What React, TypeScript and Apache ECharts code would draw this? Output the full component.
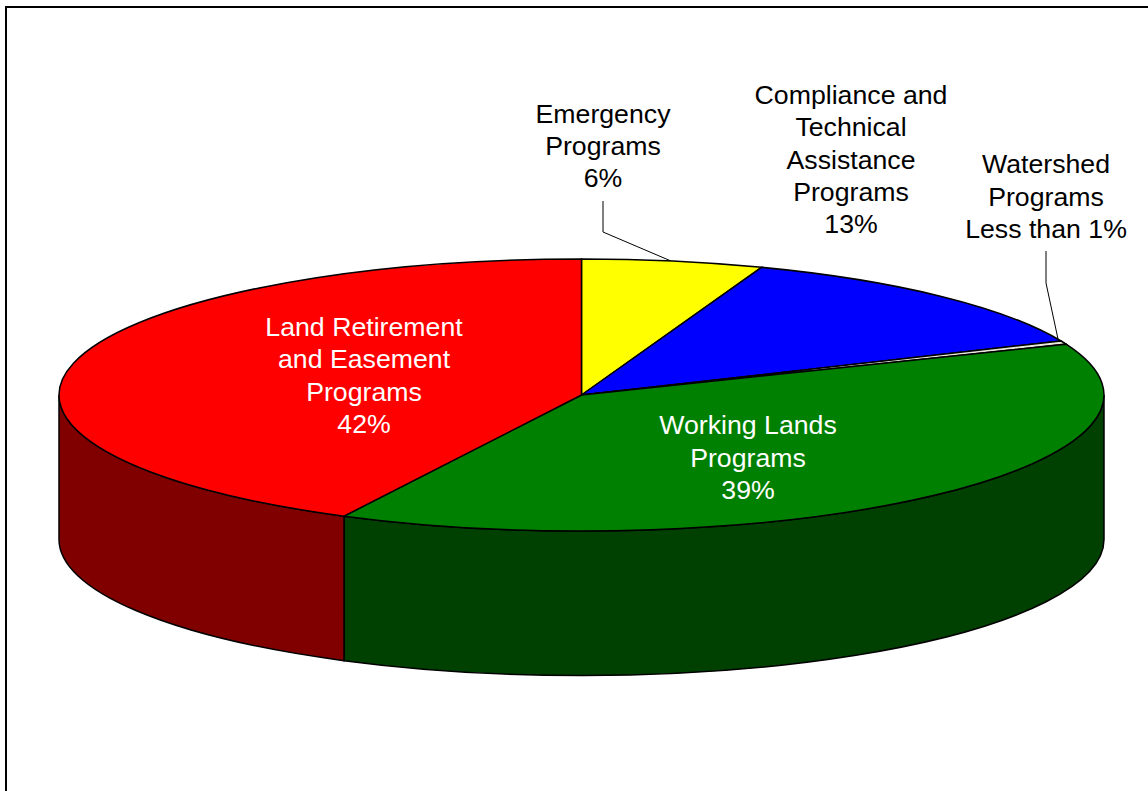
import React, { useEffect, useRef } from "react";
import * as echarts from "echarts";

// Farm conservation program shares, clockwise from the top of the pie.
const programNames = [
  "Emergency Programs",
  "Compliance and Technical Assistance Programs",
  "Watershed Programs",
  "Working Lands Programs",
  "Land Retirement and Easement Programs",
];
const shareValues = [5.6, 12.9, 0.4, 38.61, 42.49];
const topColors = ["#ffff00", "#0000ff", "#e8e8dc", "#008000", "#ff0000"];
const wallColors = ["#808000", "#000080", "#6c6c64", "#004000", "#800000"];

const labelLines = [
  ["Emergency", "Programs", "6%"],
  ["Compliance and", "Technical", "Assistance", "Programs", "13%"],
  ["Watershed", "Programs", "Less than 1%"],
  ["Working Lands", "Programs", "39%"],
  ["Land Retirement", "and Easement", "Programs", "42%"],
];
const labelColors = ["#000000", "#000000", "#000000", "#ffffff", "#ffffff"];
const labelCenters = [
  [603, 146],
  [851, 159.5],
  [1046, 196.5],
  [748, 457.5],
  [364, 375.5],
];
const leaderLines: number[][][] = [
  [[603, 201], [603, 232], [671, 261]],
  [[1046, 251], [1046, 283], [1058, 339]],
];

const CX = 581.5;
const CY = 395;
const RX = 522.5;
const RY = 136;
const DEPTH = 144.5;

const rad = (deg: number) => (deg * Math.PI) / 180;
const rimPoint = (deg: number, drop = 0): [number, number] => [
  CX + RX * Math.sin(rad(deg)),
  CY - RY * Math.cos(rad(deg)) + drop,
];

function sectorPath(a0: number, a1: number) {
  const p0 = rimPoint(a0);
  const p1 = rimPoint(a1);
  const large = a1 - a0 > 180 ? 1 : 0;
  return `M${CX} ${CY}L${p0[0]} ${p0[1]}A${RX} ${RY} 0 ${large} 1 ${p1[0]} ${p1[1]}Z`;
}

function wallPath(a0: number, a1: number) {
  const p0 = rimPoint(a0);
  const p1 = rimPoint(a1);
  const q0 = rimPoint(a0, DEPTH);
  const q1 = rimPoint(a1, DEPTH);
  return (
    `M${p0[0]} ${p0[1]}A${RX} ${RY} 0 0 1 ${p1[0]} ${p1[1]}` +
    `L${q1[0]} ${q1[1]}A${RX} ${RY} 0 0 0 ${q0[0]} ${q0[1]}Z`
  );
}

const total = shareValues.reduce((s, v) => s + v, 0);
const stroke = { stroke: "#000000", lineWidth: 1.5 };

function renderSlice(params: any, api: any) {
  const i = params.dataIndex;
  const before = shareValues.slice(0, i).reduce((s, v) => s + v, 0);
  const a0 = (before / total) * 360;
  const a1 = a0 + (api.value(0) / total) * 360;
  const children: any[] = [];
  // Only the front half of the rim shows a wall.
  const w0 = Math.max(a0, 90);
  const w1 = Math.min(a1, 270);
  if (w1 > w0) {
    children.push({
      type: "path",
      shape: { pathData: wallPath(w0, w1) },
      style: { fill: wallColors[i], ...stroke },
    });
  }
  children.push({
    type: "path",
    shape: { pathData: sectorPath(a0, a1) },
    style: { fill: topColors[i], ...stroke },
  });
  return { type: "group", children };
}

const labelFont = {
  fontFamily: '"Liberation Sans", Arial, sans-serif',
  fontSize: 26.7,
  lineHeight: 32.4,
  align: "center",
  verticalAlign: "middle",
};

export default function App() {
  const ref = useRef<HTMLDivElement>(null);

  useEffect(() => {
    document.body.style.margin = "0";
    const chart = echarts.init(ref.current!, undefined, { renderer: "svg" });
    chart.setOption({
      animation: false,
      backgroundColor: "#ffffff",
      series: [
        {
          type: "custom",
          coordinateSystem: "none",
          silent: true,
          data: shareValues.map((value, i) => ({ name: programNames[i], value: [value] })),
          renderItem: renderSlice,
        },
      ],
      graphic: [
        // Chart frame: open at the right and bottom where the page ends.
        {
          type: "polyline",
          silent: true,
          shape: { points: [[6, 791], [6, 7], [1148, 7]] },
          style: { fill: "none", stroke: "#000000", lineWidth: 2 },
        },
        ...leaderLines.map((points) => ({
          type: "polyline",
          silent: true,
          shape: { points },
          style: { fill: "none", stroke: "#000000", lineWidth: 1 },
        })),
        ...labelLines.map((lines, i) => ({
          type: "text",
          silent: true,
          z: 10,
          x: labelCenters[i][0],
          y: labelCenters[i][1],
          style: { text: lines.join("\n"), fill: labelColors[i], ...labelFont },
        })),
      ],
    });
    return () => chart.dispose();
  }, []);

  return <div ref={ref} style={{ width: 1148, height: 791 }} />;
}
